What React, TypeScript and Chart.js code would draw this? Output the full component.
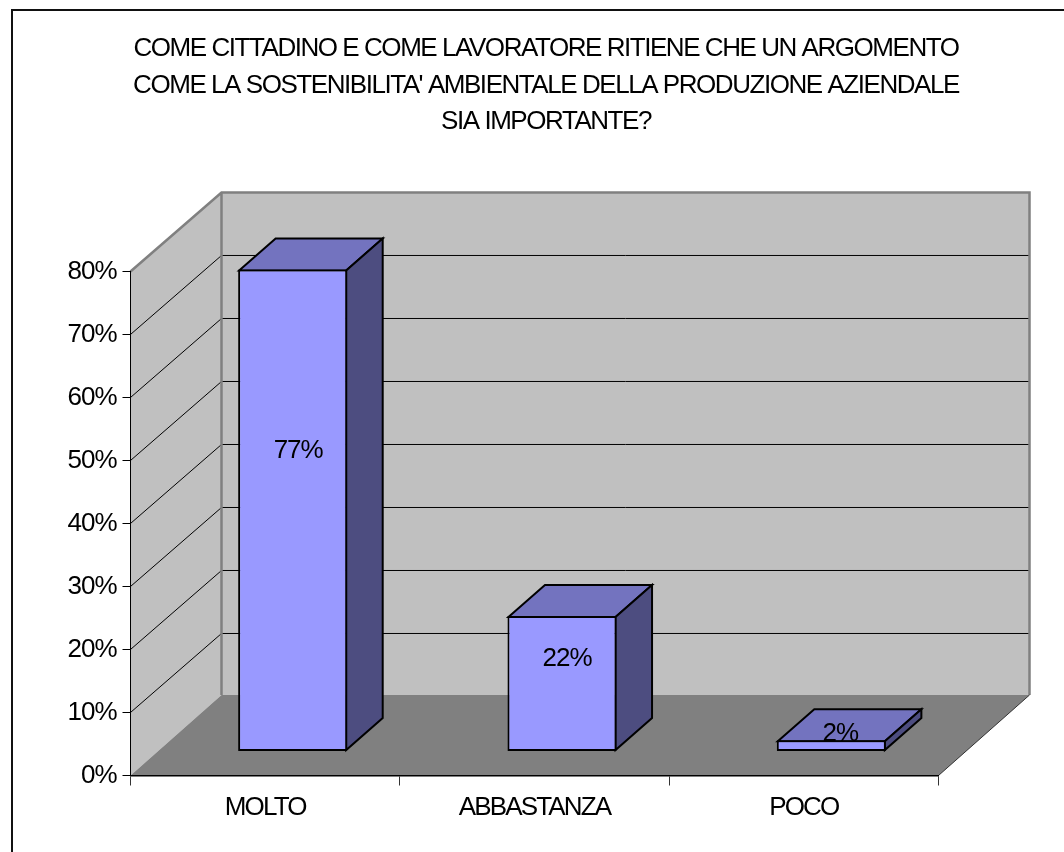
import React, { useEffect, useRef } from "react";
import { Chart, registerables } from "chart.js";

Chart.register(...registerables);

const categories = ["MOLTO", "ABBASTANZA", "POCO"];
const values = [76.5, 21.5, 1.8];
const titleLines = [
  "COME CITTADINO E COME LAVORATORE RITIENE CHE UN ARGOMENTO",
  "COME LA SOSTENIBILITA' AMBIENTALE DELLA PRODUZIONE AZIENDALE",
  "SIA IMPORTANTE?",
];
const yTicks = [0, 10, 20, 30, 40, 50, 60, 70, 80];
const labelNudgeX = [5.5, 5, 9];

const FONT = '"Liberation Sans"';
const DEPTH_X = 91;
const DEPTH_Y = -79;
const FLOOR_BACK_Y = -80.5;
const BAR_SHIFT_X = 27.5;
const BAR_SHIFT_Y = -24;
const BAR_DEPTH_X = 36.5;
const BAR_DEPTH_Y = -32;

const poly = (ctx: CanvasRenderingContext2D, pts: number[][], fill: string | null, stroke: string | null, lw = 1) => {
  ctx.beginPath();
  pts.forEach((p, i) => (i ? ctx.lineTo(p[0], p[1]) : ctx.moveTo(p[0], p[1])));
  ctx.closePath();
  if (fill) {
    ctx.fillStyle = fill;
    ctx.fill();
  }
  if (stroke) {
    ctx.strokeStyle = stroke;
    ctx.lineWidth = lw;
    ctx.stroke();
  }
};

const spaced = (owner: any, method: string, spacing: string) => {
  const orig = owner[method];
  if (orig.__spaced) return;
  const wrapped: any = function (this: any, ...args: any[]) {
    const c: any = this.ctx;
    c.save();
    c.letterSpacing = spacing;
    orig.apply(this, args);
    c.restore();
  };
  wrapped.__spaced = true;
  owner[method] = wrapped;
};

const scene = {
  id: "scene",
  afterLayout(chart: any) {
    if (chart.titleBlock) {
      chart.titleBlock.left = 0;
      chart.titleBlock.right = 1092;
      spaced(chart.titleBlock, "draw", "-1.45px");
    }
    spaced(chart.scales.y, "drawLabels", "-1px");
    spaced(chart.scales.x, "drawLabels", "-1.85px");
  },
  beforeDraw(chart: any) {
    const ctx: CanvasRenderingContext2D = chart.ctx;
    const { left, right, top, bottom } = chart.chartArea;
    const y = chart.scales.y;
    ctx.save();
    ctx.fillStyle = "#ffffff";
    ctx.fillRect(0, 0, chart.width, chart.height);
    // outer frame
    ctx.strokeStyle = "#111111";
    ctx.lineWidth = 2;
    ctx.beginPath();
    ctx.moveTo(12, 860);
    ctx.lineTo(12, 10);
    ctx.lineTo(1070, 10);
    ctx.stroke();
    // walls and floor
    const bx = left + DEPTH_X;
    const rx = right + DEPTH_X;
    const ty = top + DEPTH_Y;
    const by = bottom + FLOOR_BACK_Y;
    poly(ctx, [[bx, ty], [rx, ty], [rx, by], [bx, by]], "#c0c0c0", null);
    poly(ctx, [[left, top], [bx, ty], [bx, by], [left, bottom]], "#c0c0c0", null);
    poly(ctx, [[left, bottom], [right, bottom], [rx, by], [bx, by]], "#808080", null);
    // grid lines
    ctx.strokeStyle = "#000000";
    ctx.lineWidth = 1;
    yTicks.slice(1, -1).forEach((t) => {
      const py = y.getPixelForValue(t);
      ctx.beginPath();
      ctx.moveTo(left, py);
      ctx.lineTo(bx, py + DEPTH_Y);
      ctx.lineTo(rx, py + DEPTH_Y);
      ctx.stroke();
    });
    // wall edges
    ctx.strokeStyle = "#808080";
    ctx.lineWidth = 2.5;
    ctx.beginPath();
    ctx.moveTo(left, top);
    ctx.lineTo(bx, ty);
    ctx.lineTo(rx, ty);
    ctx.lineTo(rx, by);
    ctx.moveTo(bx, ty);
    ctx.lineTo(bx, by);
    ctx.stroke();
    ctx.strokeStyle = "#333333";
    ctx.lineWidth = 1;
    ctx.beginPath();
    ctx.moveTo(right, bottom);
    ctx.lineTo(rx, by);
    ctx.stroke();
    ctx.restore();
  },
  beforeDatasetDraw(chart: any, args: any) {
    const ctx: CanvasRenderingContext2D = chart.ctx;
    ctx.save();
    ctx.translate(BAR_SHIFT_X, BAR_SHIFT_Y);
    ctx.lineJoin = "miter";
    args.meta.data.forEach((bar: any) => {
      const l = bar.x - bar.width / 2 + 1;
      const r = bar.x + bar.width / 2 - 1;
      const t = bar.y + 1;
      const b = bar.base - 1;
      poly(ctx, [[l, t], [r, t], [r + BAR_DEPTH_X, t + BAR_DEPTH_Y], [l + BAR_DEPTH_X, t + BAR_DEPTH_Y]], "#7373bf", "#000000", 2);
      poly(ctx, [[r, t], [r + BAR_DEPTH_X, t + BAR_DEPTH_Y], [r + BAR_DEPTH_X, b + BAR_DEPTH_Y], [r, b]], "#4d4d80", "#000000", 2);
    });
  },
  afterDatasetDraw(chart: any, args: any) {
    const ctx: CanvasRenderingContext2D = chart.ctx;
    ctx.restore();
    ctx.save();
    ctx.font = `26px ${FONT}`;
    (ctx as any).letterSpacing = "-1px";
    ctx.fillStyle = "#000000";
    ctx.textAlign = "center";
    ctx.textBaseline = "middle";
    args.meta.data.forEach((bar: any, i: number) => {
      const h = bar.base - bar.y;
      ctx.fillText(
        `${Math.round(values[i])}%`,
        bar.x + BAR_SHIFT_X + labelNudgeX[i],
        bar.y + BAR_SHIFT_Y + 0.4 * h - 11,
      );
    });
    ctx.restore();
  },
};

export default function App() {
  const ref = useRef<HTMLCanvasElement | null>(null);
  useEffect(() => {
    if (!ref.current) return;
    const chart = new Chart(ref.current, {
      type: "bar",
      data: {
        labels: categories,
        datasets: [
          {
            data: values,
            backgroundColor: "#9999ff",
            borderColor: "#000000",
            borderWidth: 2,
            borderSkipped: false,
            categoryPercentage: 1,
            barPercentage: 0.405,
            clip: false,
          } as any,
        ],
      },
      options: {
        responsive: false,
        animation: false,
        layout: { padding: { left: 30.5, right: 125.5, top: 0, bottom: 16.5 } },
        plugins: {
          legend: { display: false },
          tooltip: { enabled: false },
          title: {
            display: true,
            text: titleLines,
            color: "#000000",
            font: { family: FONT, size: 26, weight: "normal", lineHeight: 1.41 },
            padding: { top: 30.5, bottom: 131 },
          },
        },
        scales: {
          x: {
            offset: true,
            grid: { offset: true, drawOnChartArea: false, color: "#333333", tickLength: 10 },
            border: { color: "#000000", width: 1.5 },
            ticks: { color: "#000000", font: { family: FONT, size: 26 }, padding: 7, maxRotation: 0 },
            afterFit: (s: any) => {
              s.height = 60;
            },
          },
          y: {
            min: 0,
            max: 80,
            grid: { drawOnChartArea: false, color: "#000000", tickLength: 8 },
            border: { color: "#000000", width: 1 },
            ticks: {
              stepSize: 10,
              color: "#000000",
              font: { family: FONT, size: 26 },
              padding: 6,
              callback: (v: any) => `${v}%`,
            },
            afterFit: (s: any) => {
              s.width = 100;
            },
          },
        },
      },
      plugins: [scene],
    });
    return () => chart.destroy();
  }, []);
  return (
    <div style={{ position: "absolute", left: 0, top: 0, width: 1064, height: 852, overflow: "hidden" }}>
      <canvas ref={ref} width={1064} height={852} style={{ display: "block" }} />
    </div>
  );
}
